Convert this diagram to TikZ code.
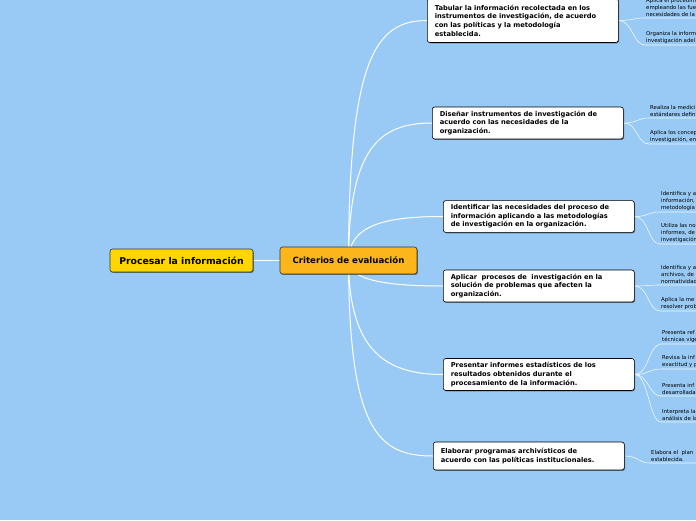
\documentclass[tikz,border=0pt]{standalone}
\usepackage{fontspec}
\setmainfont{DejaVu Sans}
\usetikzlibrary{shadows}
\pgfdeclarelayer{bglayer}
\pgfdeclarelayer{lines}
\pgfsetlayers{bglayer,lines,main}
\definecolor{bgblue}{RGB}{152,202,245}
\definecolor{rootyellow}{RGB}{255,214,0}
\definecolor{critorange}{RGB}{252,182,28}
\definecolor{edgegray}{RGB}{50,50,50}
\newcommand{\ml}[1]{\mbox{#1}}
\begin{document}
\begin{tikzpicture}[x=1pt,y=-1pt,
  shad/.style={drop shadow={shadow xshift=0.8pt,shadow yshift=-0.9pt,fill=black,opacity=0.45}},
  rootbox/.style={draw=edgegray,line width=0.6pt,fill=rootyellow,rounded corners=2.5pt,shad,
    minimum width=143pt,minimum height=23pt,inner sep=0pt,font=\fontsize{9.3}{11}\selectfont\bfseries},
  critbox/.style={draw=edgegray,line width=0.6pt,fill=critorange,rounded corners=2.5pt,shad,
    minimum width=137pt,minimum height=27pt,inner sep=0pt,font=\fontsize{8.6}{10}\selectfont\bfseries},
  childbox/.style={draw=black,line width=0.6pt,fill=white,rounded corners=2.5pt,shad,anchor=west,
    text width=176pt,inner xsep=7.5pt,inner ysep=4pt,align=left,
    font=\fontsize{6.7}{8.6}\selectfont\bfseries},
  leaf/.style={anchor=south west,inner xsep=1pt,inner ysep=1.6pt,align=left,
    font=\fontsize{5.4}{6.6}\selectfont},
  mainline/.style={white,line width=1pt},
  subline/.style={white,opacity=0.85,line width=0.6pt}
]
\useasboundingbox (0,0) rectangle (696,520);
\clip (0,0) rectangle (696,520);
\begin{pgfonlayer}{bglayer}
\fill[bgblue] (0,0) rectangle (696,520);
\end{pgfonlayer}

% main nodes
\node[rootbox] (root) at (181.5,260.5) {Procesar la información};
\node[critbox] (crit) at (348.5,260.5) {Criterios de evaluación};

% child nodes
\node[childbox,minimum height=44pt] (c1) at (427,20.5) {\ml{Tabular la información recolectada en los}\\\ml{instrumentos de investigación, de acuerdo}\\\ml{con las políticas y la metodología}\\\ml{establecida.}};
\node[childbox] (c2) at (432,123) {\ml{Diseñar instrumentos de investigación de}\\\ml{acuerdo con las necesidades de la}\\\ml{organización.}};
\node[childbox] (c3) at (443,216.5) {\ml{Identificar las necesidades del proceso de}\\\ml{información aplicando a las metodologías}\\\ml{de investigación en la organización.}};
\node[childbox] (c4) at (443,286) {\ml{Aplicar\ \ procesos de\ \ investigación en la}\\\ml{solución de problemas que afecten la}\\\ml{organización.}};
\node[childbox] (c5) at (443,374.5) {\ml{Presentar informes estadísticos de los}\\\ml{resultados obtenidos durante el}\\\ml{procesamiento de la información.}};
\node[childbox,minimum height=28pt] (c6) at (433,456) {\ml{Elaborar programas archivísticos de}\\\ml{acuerdo con las políticas institucionales.}};

% leaves
\node[leaf] (g1a) at (645,18) {Aplica el procedim\\empleando las fue\\necesidades de la};
\node[leaf] (g1b) at (645,45) {Organiza la inform\\investigación adel};
\node[leaf] (g2a) at (649,118) {Realiza la medici\\estándares defin};
\node[leaf] (g2b) at (649,144) {Aplica los concep\\investigación, en};
\node[leaf] (g3a) at (660,212) {Identifica y a\\información,\\metodología};
\node[leaf] (g3b) at (660,244) {Utiliza las no\\informes, de\\investigación};
\node[leaf] (g4a) at (660,285) {Identifica y a\\archivos, de\\normatividad};
\node[leaf] (g4b) at (660,311) {Aplica la me\\resolver prob};
\node[leaf] (g5a) at (661,344) {Presenta ref\\técnicas vige};
\node[leaf] (g5b) at (661,369) {Revisa la inf\\exactitud y p};
\node[leaf] (g5c) at (661,396) {Presenta inf\\desarrollada};
\node[leaf] (g5d) at (661,422) {Interpreta la\\análisis de la};
\node[leaf] (g6) at (650,463) {Elabora el\ \ plan\\establecida.};

\begin{pgfonlayer}{lines}
\draw[mainline] (root.east) -- (crit.west);
\draw[mainline] (crit.center) .. controls (349,60) and (375,20.5) .. (c1.west);
\draw[mainline] (crit.center) .. controls (349,150) and (378,123) .. (c2.west);
\draw[mainline] (crit.center) .. controls (349,225) and (385,216.5) .. (c3.west);
\draw[mainline] (crit.center) .. controls (349,280) and (385,286) .. (c4.west);
\draw[mainline] (crit.center) .. controls (349,350) and (385,374.5) .. (c5.west);
\draw[mainline] (crit.center) .. controls (349,430) and (378,456) .. (c6.west);

\foreach \c/\g in {c1/g1a,c1/g1b,c2/g2a,c2/g2b,c3/g3a,c3/g3b,c4/g4a,c4/g4b,c5/g5a,c5/g5b,c5/g5c,c5/g5d,c6/g6}{
  \draw[subline] (\c.east) .. controls +(14,0) and +(-12,0) .. (\g.south west) -- ++(80,0);
}
\end{pgfonlayer}
\end{tikzpicture}
\end{document}
